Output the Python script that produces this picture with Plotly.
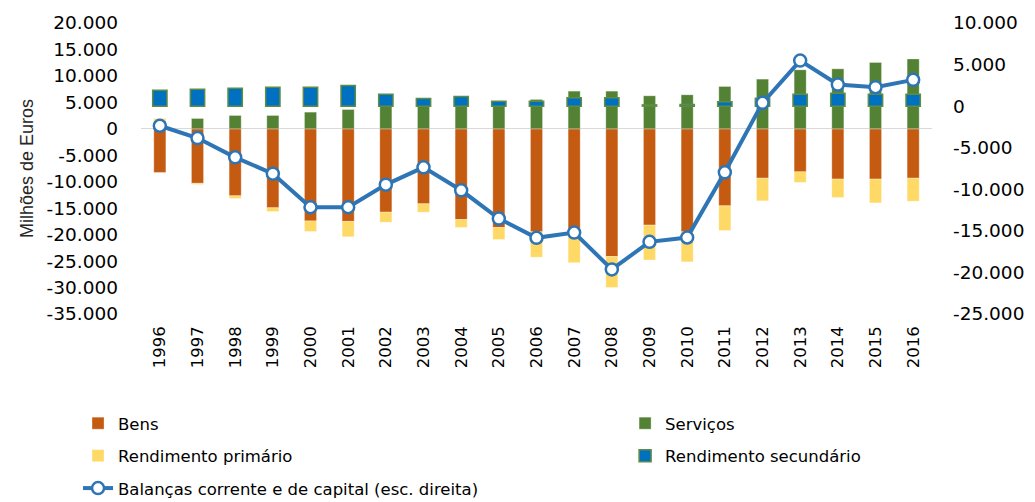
import plotly.graph_objects as go

anos = [str(a) for a in range(1996, 2017)]

# milhoes de euros (escala esquerda)
bens = [-8250, -10300, -12670, -14930, -17400, -17500, -15750, -14180, -17140, -18650,
        -19470, -19100, -24130, -18200, -19470, -14560, -9330, -8130, -9500, -9500, -9330]
servicos = [1500, 1950, 2520, 2520, 3150, 3650, 4400, 4600, 4900, 4800,
            5550, 7120, 7120, 6240, 6430, 8000, 9390, 11150, 11340, 12540, 13200]
rend_primario = [450, -200, -500, -700, -2000, -2900, -1900, -1580, -1500, -2270,
                 -4800, -6200, -5860, -6600, -5670, -4660, -4280, -2000, -3470, -4500, -4350]
# desenhado na escala direita
rend_secundario = [1920, 2040, 2160, 2280, 2280, 2480, 1440, 920, 1160, 600,
                   600, 1000, 1000, 150, 200, 520, 960, 1440, 1560, 1440, 1440]
balanca = [-2360, -3840, -6160, -8120, -12160, -12160, -9440, -7360, -10120, -13520,
           -15840, -15200, -19640, -16320, -15800, -7960, 400, 5480, 2600, 2280, 3160]

ticks_esq = list(range(20000, -35001, -5000))
ticks_dir = list(range(10000, -25001, -5000))

def fmt(v):
    return f"{v:,}".replace(",", ".")

lbl_esq = [fmt(v) for v in ticks_esq]
lbl_dir = [fmt(v) for v in ticks_dir]

fig = go.Figure()
fig.add_trace(go.Bar(x=anos, y=bens, name="Bens", width=0.32, marker_color="#C55A11",
                     marker_line=dict(color="rgba(255,255,255,0.6)", width=0.5),
                     legend="legend", legendgroup="a"))
fig.add_trace(go.Bar(x=anos, y=servicos, name="Serviços", width=0.32, marker_color="#548235",
                     marker_line=dict(color="rgba(255,255,255,0.6)", width=0.5),
                     legend="legend2", legendgroup="b"))
fig.add_trace(go.Bar(x=anos, y=rend_primario, name="Rendimento primário", width=0.32,
                     marker_color="#FFD966", marker_line=dict(color="rgba(255,255,255,0.6)", width=0.5),
                     legend="legend", legendgroup="c"))
fig.add_trace(go.Bar(x=anos, y=rend_secundario, name="Rendimento secundário", width=0.38,
                     marker_color="#0070C0", marker_line=dict(color="#5E8C45", width=1.5),
                     yaxis="y2", legend="legend2", legendgroup="d"))
fig.add_trace(go.Scatter(x=anos, y=balanca, name="Balanças corrente e de capital (esc. direita)",
                         mode="lines+markers", yaxis="y2",
                         line=dict(color="#2E75B6", width=4),
                         marker=dict(size=12, color="white", line=dict(color="#2E75B6", width=2.5)),
                         legend="legend", legendgroup="e"))

leg_font = dict(family="DejaVu Sans", size=16.5, color="#000000")

# a pagina tem margem de 8px no body
fig.update_layout(
    width=1027, height=494,
    margin=dict(l=133, r=103, t=15, b=188, autoexpand=False),
    barmode="relative",
    plot_bgcolor="white", paper_bgcolor="white",
    font=dict(family="DejaVu Sans", color="#000000"),
    xaxis=dict(type="category", range=[-0.5, 20.5], tickangle=-90, tickfont=dict(size=16.5),
               showgrid=False, showline=False, ticks="", ticklabelstandoff=8),
    yaxis=dict(range=[-35000, 20000], tickvals=ticks_esq, ticktext=lbl_esq,
               tickfont=dict(size=18.5), showgrid=False, zeroline=True,
               zerolinecolor="#D9D9D9", zerolinewidth=1, showline=False, ticklabelstandoff=22,
               title=dict(text="Milhões de Euros", font=dict(family="Liberation Sans", size=18, color="#262626"),
                          standoff=8)),
    yaxis2=dict(range=[-25000, 10000], overlaying="y", side="right", tickvals=ticks_dir,
                ticktext=lbl_dir, tickfont=dict(size=18.5), showgrid=False, zeroline=False,
                showline=False, ticklabelstandoff=20),
    legend=dict(x=-0.0796, xanchor="left", y=-0.316, yanchor="top", orientation="v",
                font=leg_font, tracegroupgap=8, bgcolor="rgba(0,0,0,0)"),
    legend2=dict(x=0.612, xanchor="left", y=-0.316, yanchor="top", orientation="v",
                 font=leg_font, tracegroupgap=8, bgcolor="rgba(0,0,0,0)"),
)

fig.write_html("out.html")
